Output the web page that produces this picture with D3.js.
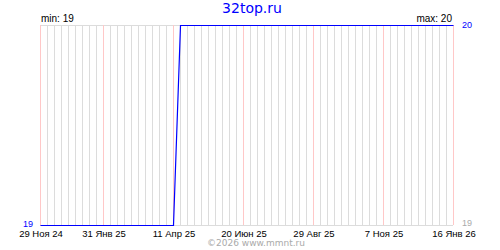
<!DOCTYPE html>
<meta charset="utf-8">
<html>
<head>
<style>
body { margin: 0; background: #fff; }
svg { display: block; font-family: "DejaVu Sans", sans-serif; }
.grid { stroke: #dcdcdc; stroke-width: 1px; shape-rendering: crispEdges; }
.major { stroke: #ffc8c8; stroke-width: 1px; shape-rendering: crispEdges; }
.line { fill: none; stroke: #0000ff; stroke-width: 1.2px; }
.lbl { font-family: "Liberation Sans", Arial, sans-serif; }
</style>
</head>
<body>
<svg width="500" height="250"></svg>
<script src="https://d3js.org/d3.v7.min.js"></script>
<script>

// data
var dates = ["2024-11-29", "2025-04-11", "2025-04-18", "2026-01-16"];
var values = [19, 19, 20, 20];
var tickDates = ["2024-11-29", "2025-01-31", "2025-04-11", "2025-06-20", "2025-08-29", "2025-11-07", "2026-01-16"];
var tickLabels = ["29 Ноя 24", "31 Янв 25", "11 Апр 25", "20 Июн 25", "29 Авг 25", "7 Ноя 25", "16 Янв 26"];
var title = "32top.ru";
var credit = "©2026 www.mmnt.ru";

var parseDate = d3.timeParse("%Y-%m-%d");
var data = dates.map(function (d, i) { return {date: parseDate(d), value: values[i]}; });
var ticks = tickDates.map(parseDate);

var svg = d3.select("svg"),
    margin = {top: 25, left: 40};

var x = d3.scaleTime()
    .domain([ticks[0], ticks[ticks.length - 1]])
    .range([margin.left, margin.left + 413]);
var y = d3.scaleLinear()
    .domain([19, 20])
    .range([margin.top + 200, margin.top]);

var vmin = d3.min(values), vmax = d3.max(values);

// weekly grid
var weeks = d3.timeFriday.range(ticks[0], d3.timeDay.offset(ticks[ticks.length - 1], 1));
svg.append("g").selectAll("line")
    .data(weeks)
    .enter().append("line")
    .attr("class", "grid")
    .attr("x1", function (d) { return Math.round(x(d)) + 0.5; })
    .attr("x2", function (d) { return Math.round(x(d)) + 0.5; })
    .attr("y1", y(20))
    .attr("y2", y(19));

svg.append("g").selectAll("line")
    .data([20, 19])
    .enter().append("line")
    .attr("class", "grid")
    .attr("x1", x.range()[0])
    .attr("x2", x.range()[1])
    .attr("y1", function (d) { return y(d) + 0.5; })
    .attr("y2", function (d) { return y(d) + 0.5; });

svg.append("g").selectAll("line")
    .data(ticks)
    .enter().append("line")
    .attr("class", "major")
    .attr("x1", function (d) { return Math.round(x(d)) + 0.5; })
    .attr("x2", function (d) { return Math.round(x(d)) + 0.5; })
    .attr("y1", y(20))
    .attr("y2", y(19));

// line
var line = d3.line()
    .x(function (d) { return Math.round(x(d.date)) + 0.5; })
    .y(function (d) { return y(d.value) + 0.5; });

svg.append("path")
    .datum(data)
    .attr("class", "line")
    .attr("d", line);

// tick labels
svg.append("g").selectAll("text")
    .data(ticks)
    .enter().append("text")
    .attr("class", "lbl")
    .attr("x", function (d) { return x(d) + 1; })
    .attr("y", 237)
    .attr("text-anchor", "middle")
    .attr("font-size", "9.5px")
    .attr("fill", "#000")
    .text(function (d, i) { return tickLabels[i]; });

// title
svg.append("text")
    .attr("x", 252).attr("y", 12.5)
    .attr("text-anchor", "middle")
    .attr("font-size", "14px")
    .attr("fill", "#0000ff")
    .text(title);

svg.append("text")
    .attr("class", "lbl")
    .attr("x", 41).attr("y", 22)
    .attr("font-size", "10px")
    .text("min: " + vmin);

svg.append("text")
    .attr("class", "lbl")
    .attr("x", 452).attr("y", 22)
    .attr("text-anchor", "end")
    .attr("font-size", "10px")
    .text("max: " + vmax);

svg.append("text")
    .attr("class", "lbl")
    .attr("x", 33).attr("y", y(vmin) + 1.5)
    .attr("text-anchor", "end")
    .attr("font-size", "9px")
    .attr("fill", "#0000ff")
    .text(vmin);

svg.append("text")
    .attr("class", "lbl")
    .attr("x", 462).attr("y", y(vmax) + 3)
    .attr("font-size", "9px")
    .attr("fill", "#0000ff")
    .text(values[values.length - 1]);

svg.append("text")
    .attr("class", "lbl")
    .attr("x", 462).attr("y", y(vmin) + 1)
    .attr("font-size", "9px")
    .attr("fill", "#aaa")
    .text(values[0]);

svg.append("text")
    .attr("x", 256).attr("y", 246)
    .attr("text-anchor", "middle")
    .attr("font-size", "9px")
    .attr("fill", "#aaa")
    .text(credit);

</script>
</body>
</html>
